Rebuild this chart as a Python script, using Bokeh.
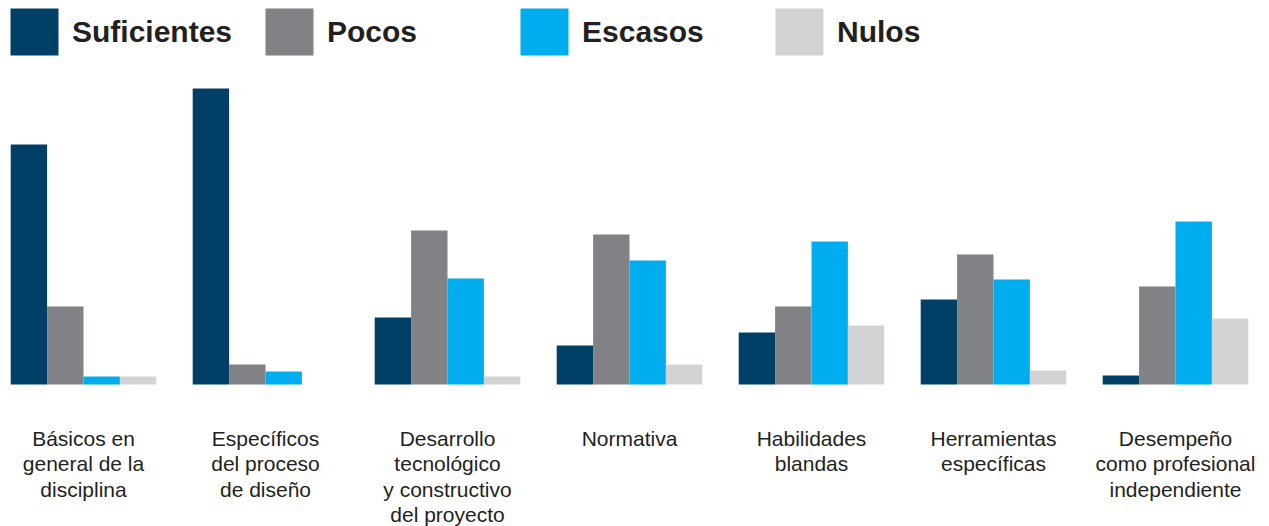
from bokeh.plotting import figure
from bokeh.models import ColumnDataSource, Range1d, Legend, LegendItem
from bokeh.core.properties import value
from bokeh.embed import file_html
from bokeh.resources import INLINE

categories = [
    "Básicos en\ngeneral de la\ndisciplina",
    "Específicos\ndel proceso\nde diseño",
    "Desarrollo\ntecnológico\ny constructivo\ndel proyecto",
    "Normativa",
    "Habilidades\nblandas",
    "Herramientas\nespecíficas",
    "Desempeño\ncomo profesional\nindependiente",
]
series_names = ["Suficientes", "Pocos", "Escasos", "Nulos"]
suficientes = [240, 296, 67, 39, 52, 85, 9]
pocos = [78, 20, 154, 150, 78, 130, 98]
escasos = [8, 13, 106, 124, 143, 105, 163]
nulos = [8, 0, 8, 20, 59, 14, 66]
colors = ["#004066", "#808285", "#00aeef", "#d1d3d4"]

series_values = [suficientes, pocos, escasos, nulos]
offsets = [-0.3, -0.1, 0.1, 0.3]
bar_w = 0.2

W, H = 1269, 526
x0 = -83 / 182.0
p = figure(width=W, height=H, output_backend="svg", toolbar_location=None,
           x_range=Range1d(x0, x0 + W / 182.0),
           y_range=Range1d(384 - H, 384),
           min_border_left=0, min_border_right=0, min_border_top=0, min_border_bottom=0)
p.xaxis.visible = False
p.yaxis.visible = False
p.grid.visible = False
p.outline_line_color = None
p.background_fill_color = "white"
p.border_fill_color = "white"

xs = list(range(len(categories)))
items = []
for name, vals, off, col in zip(series_names, series_values, offsets, colors):
    src = ColumnDataSource(dict(x=[i + off for i in xs], top=vals))
    r = p.vbar(x="x", top="top", bottom=0, width=bar_w, source=src,
               fill_color=col, line_color=None)
    items.append(LegendItem(label=name, renderers=[r]))

lab_src = ColumnDataSource(dict(x=xs, y=[-42] * len(xs), text=categories))
p.text(x="x", y="y", text="text", source=lab_src,
       text_align="center", text_baseline="top",
       text_font=value("Liberation Sans"), text_font_size="21px",
       text_color="#231f20", text_line_height=1.11)

# legend glyphs are drawn inset by 10% of the glyph box on each side
legend = Legend(items=items, orientation="horizontal", location=(4, H - 2 - 59),
                margin=0, padding=0, spacing=0,
                glyph_width=60, glyph_height=59, label_standoff=8,
                label_width=187, label_height=59,
                label_text_font="Liberation Sans", label_text_font_style="bold",
                label_text_font_size="30px", label_text_color="#231f20",
                label_text_baseline="middle",
                background_fill_alpha=0, border_line_color=None)
p.add_layout(legend)

open("out.html", "w").write(file_html(p, INLINE))
